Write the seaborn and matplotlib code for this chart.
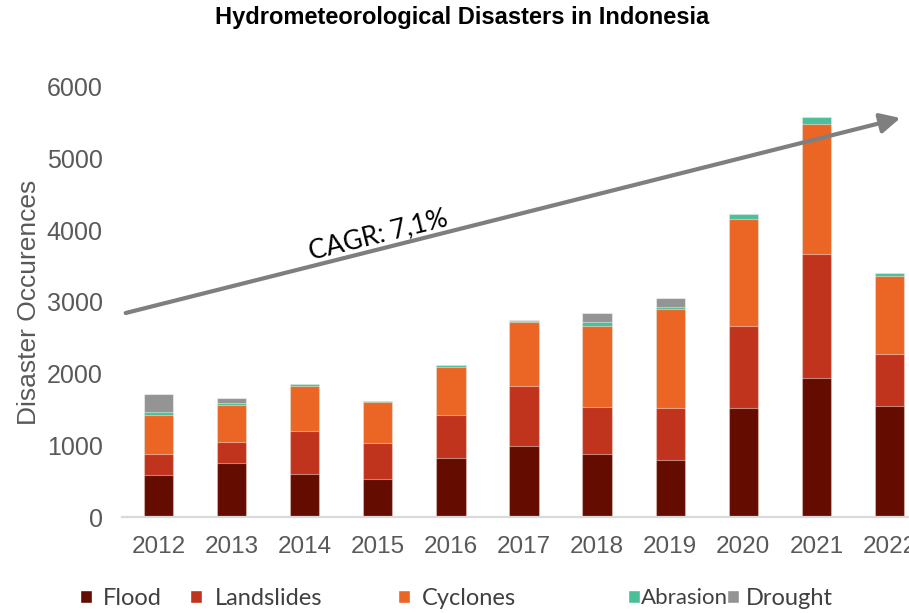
import numpy as np
import pandas as pd
import matplotlib
matplotlib.use("Agg")
import matplotlib.pyplot as plt
from matplotlib.patches import Patch
import seaborn as sns

# values
years = ["2012", "2013", "2014", "2015", "2016", "2017", "2018", "2019", "2020", "2021", "2022"]
flood = [590, 758, 604, 534, 828, 987, 885, 791, 1517, 1935, 1553]
landslides = [293, 293, 600, 503, 600, 846, 645, 726, 1153, 1730, 717]
cyclones = [540, 507, 620, 572, 662, 888, 1139, 1385, 1488, 1814, 1097]
abrasion = [38, 37, 25, 10, 25, 10, 46, 28, 70, 106, 33]
drought = [255, 65, 5, 5, 0, 20, 136, 122, 0, 0, 0]

series_names = ["Flood", "Landslides", "Cyclones", "Abrasion", "Drought"]
series_colors = ["#640C00", "#C0341D", "#EB6625", "#4BBF9A", "#949494"]

df = pd.DataFrame({"year": years, "Flood": flood, "Landslides": landslides,
                   "Cyclones": cyclones, "Abrasion": abrasion, "Drought": drought})
# cumulative heights, drawn from the top layer down so each one overlays the next
cum = df[series_names].cumsum(axis=1)
cum["year"] = df["year"]

sns.set_style("white")
fig = plt.figure(figsize=(9.09, 6.13), dpi=100)
ax = fig.add_axes([0.1342, 0.1566, 0.8845, 0.7015])

for name, color in reversed(list(zip(series_names, series_colors))):
    sns.barplot(data=cum, x="year", y=name, color=color, order=years, width=0.4,
                saturation=1, edgecolor=(1, 1, 1, 0.45), linewidth=0.8, ax=ax)

ax.set_xlim(-0.5, len(years) - 0.5)
ax.set_ylim(0, 6000)
ax.set_yticks(range(0, 6001, 1000))
ax.set_xlabel("")
ax.set_ylabel("Disaster Occurences", fontsize=19, color="#595959",
              family="Liberation Sans", labelpad=4)
for s in ["top", "right", "left"]:
    ax.spines[s].set_visible(False)
ax.spines["bottom"].set_color("#D9D9D9")
ax.spines["bottom"].set_linewidth(1.6)
ax.tick_params(axis="y", length=0, labelsize=18, labelcolor="#595959", pad=14)
ax.tick_params(axis="x", length=0, labelsize=17.5, labelcolor="#595959", pad=14)
for lbl in ax.get_xticklabels() + ax.get_yticklabels():
    lbl.set_family("Liberation Sans")

# CAGR trend arrow
arrow_start = (-0.45, 2846)
arrow_end = (10.15, 5567)
ax.annotate("", xy=arrow_end, xytext=arrow_start, annotation_clip=False,
            arrowprops=dict(arrowstyle="-|>,head_length=0.8,head_width=0.4",
                            color="#7F7F7F", lw=3, shrinkA=0, shrinkB=0,
                            mutation_scale=15))
ax.text(3.0, 3935, "CAGR: 7,1%", rotation=14, ha="center", va="center",
        fontsize=19, family="Lato", color="black")

fig.text(0.508, 0.972, "Hydrometeorological Disasters in Indonesia", ha="center",
         va="center", fontsize=17, fontweight="bold", family="Liberation Sans",
         color="black")

# legend entries laid out like the original (uneven spacing)
legend_x = [80, 190, 398, 628, 727]
legend_gap = [0.45, 0.55, 0.5, 0.05, 0.3]
legend_size = [17, 17, 17, 16, 17]
for name, color, x0, gap, fs in zip(series_names, series_colors, legend_x, legend_gap, legend_size):
    fig.legend([Patch(facecolor=color)], [name], loc="center left",
               bbox_to_anchor=(x0 / 909, 0.024), frameon=False, borderpad=0,
               borderaxespad=0, handlelength=0.5 * 17 / fs, handleheight=0.5 * 17 / fs,
               handletextpad=gap, prop={"family": "Lato", "size": fs})
for leg in fig.legends:
    for t in leg.get_texts():
        t.set_color("#404040")

fig.savefig("out.png", dpi=100)
